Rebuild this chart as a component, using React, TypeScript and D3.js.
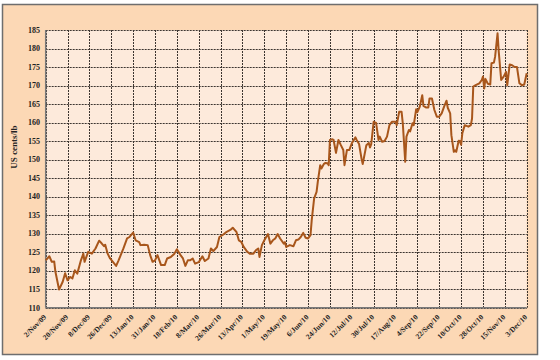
import React from "react";
import * as d3 from "d3";

const dates: string[] = [
  "2009-11-02","2009-11-05","2009-11-07","2009-11-09","2009-11-10","2009-11-13","2009-11-16","2009-11-18","2009-11-20","2009-11-22",
  "2009-11-24","2009-11-26","2009-11-28","2009-12-01","2009-12-03","2009-12-04","2009-12-07","2009-12-10","2009-12-13","2009-12-16",
  "2009-12-18","2009-12-20","2009-12-21","2009-12-23","2009-12-25","2009-12-30","2010-01-01","2010-01-05","2010-01-08","2010-01-10",
  "2010-01-13","2010-01-15","2010-01-18","2010-01-19","2010-01-22","2010-01-25","2010-01-27","2010-01-29","2010-01-31","2010-02-02",
  "2010-02-03","2010-02-05","2010-02-08","2010-02-10","2010-02-13","2010-02-16","2010-02-18","2010-02-21","2010-02-23","2010-02-25",
  "2010-02-27","2010-03-01","2010-03-03","2010-03-05","2010-03-08","2010-03-11","2010-03-13","2010-03-16","2010-03-18","2010-03-20",
  "2010-03-23","2010-03-25","2010-03-28","2010-03-31","2010-04-03","2010-04-05","2010-04-08","2010-04-10","2010-04-12","2010-04-14",
  "2010-04-17","2010-04-19","2010-04-22","2010-04-24","2010-04-26","2010-04-27","2010-04-29","2010-05-01","2010-05-04","2010-05-06",
  "2010-05-08","2010-05-10","2010-05-12","2010-05-14","2010-05-17","2010-05-18","2010-05-19","2010-05-22","2010-05-25","2010-05-27",
  "2010-05-29","2010-05-31","2010-06-02","2010-06-04","2010-06-06","2010-06-08","2010-06-09","2010-06-11","2010-06-13","2010-06-14",
  "2010-06-16","2010-06-17","2010-06-19","2010-06-20","2010-06-22","2010-06-23","2010-06-24","2010-06-26","2010-06-27","2010-06-29",
  "2010-07-01","2010-07-03","2010-07-05","2010-07-06","2010-07-08","2010-07-10","2010-07-12","2010-07-15","2010-07-16","2010-07-18",
  "2010-07-20","2010-07-21","2010-07-24","2010-07-26","2010-07-27","2010-07-28","2010-07-30","2010-08-01","2010-08-03","2010-08-04",
  "2010-08-06","2010-08-08","2010-08-10","2010-08-12","2010-08-14","2010-08-17","2010-08-18","2010-08-20","2010-08-22","2010-08-23",
  "2010-08-25","2010-08-26","2010-08-28","2010-08-29","2010-08-31","2010-09-01","2010-09-03","2010-09-04","2010-09-06","2010-09-08",
  "2010-09-09","2010-09-11","2010-09-13","2010-09-14","2010-09-16","2010-09-18","2010-09-20","2010-09-22","2010-09-24","2010-09-26",
  "2010-09-28","2010-09-29","2010-10-01","2010-10-02","2010-10-04","2010-10-05","2010-10-06","2010-10-08","2010-10-09","2010-10-10",
  "2010-10-11","2010-10-13","2010-10-16","2010-10-18","2010-10-19","2010-10-20","2010-10-22","2010-10-25","2010-10-27","2010-10-28",
  "2010-10-29","2010-10-30","2010-11-01","2010-11-03","2010-11-04","2010-11-06","2010-11-07","2010-11-09","2010-11-10","2010-11-12",
  "2010-11-14","2010-11-16","2010-11-17","2010-11-19","2010-11-21","2010-11-23","2010-11-25","2010-11-27","2010-11-29","2010-12-01",
  "2010-12-03"
];

const prices: number[] = [
  122.8,123.9,122.4,122.5,119.7,114.9,117.0,119.3,117.4,118.3,
  117.9,120.1,119.2,122.8,124.6,122.4,125.1,124.6,126.0,128.1,
  127.4,126.6,127.0,124.6,123.3,121.3,122.8,126.0,128.7,129.1,
  130.3,128.2,127.7,126.9,127.0,126.9,124.2,122.4,122.8,124.2,
  123.3,121.5,121.5,123.3,123.7,124.6,125.8,124.2,123.3,121.3,
  122.8,122.8,123.3,121.9,122.3,123.9,122.6,123.3,126.0,125.3,
  126.4,129.1,129.7,130.5,131.0,131.6,130.5,128.2,127.8,126.4,
  125.1,124.6,124.6,125.5,126.0,123.7,126.9,128.2,129.9,127.3,
  128.2,128.7,129.9,128.7,127.3,127.7,126.4,126.9,126.6,128.2,
  128.4,129.1,130.2,128.9,128.7,129.6,133.6,139.5,141.3,144.0,
  148.5,147.6,148.8,149.1,149.0,148.5,155.3,155.5,155.3,151.8,
  155.3,153.9,152.6,148.5,152.6,152.6,154.4,156.0,155.3,154.2,
  150.3,148.8,153.9,154.5,153.3,154.2,160.2,159.9,155.3,156.2,
  154.8,155.0,156.2,159.3,160.2,160.2,159.3,162.9,162.9,159.8,
  149.4,156.2,158.0,157.6,159.8,159.3,163.6,162.8,164.3,167.4,
  164.5,164.1,164.1,166.5,166.5,163.4,161.6,161.6,162.5,164.3,
  165.9,164.0,162.5,156.6,152.1,152.5,152.1,155.1,155.0,154.0,
  157.1,159.3,158.9,159.3,161.1,169.7,170.1,170.6,171.5,172.4,
  169.2,171.8,170.5,170.3,176.0,176.2,177.8,184.1,179.1,171.5,
  172.4,173.7,170.1,175.7,175.5,175.0,175.0,170.6,170.1,170.3,
  173.3
];

const tickDates: string[] = [
  "2009-11-02","2009-11-20","2009-12-08","2009-12-26","2010-01-13","2010-01-31","2010-02-18","2010-03-08",
  "2010-03-26","2010-04-13","2010-05-01","2010-05-19","2010-06-06","2010-06-24","2010-07-12","2010-07-30",
  "2010-08-17","2010-09-04","2010-09-22","2010-10-10","2010-10-28","2010-11-15","2010-12-03"
];
const tickLabels: string[] = [
  "2/Nov/09","20/Nov/09","8/Dec/09","26/Dec/09","13/Jan/10","31/Jan/10","18/Feb/10","8/Mar/10",
  "26/Mar/10","13/Apr/10","1/May/10","19/May/10","6/Jun/10","24/Jun/10","12/Jul/10","30/Jul/10",
  "17/Aug/10","4/Sep/10","22/Sep/10","10/Oct/10","28/Oct/10","15/Nov/10","3/Dec/10"
];
const yTicks: number[] = [110,115,120,125,130,135,140,145,150,155,160,165,170,175,180,185];
const yTitle = "US cents/lb";

export default function App() {
  const W = 560, H = 360;
  const left = 45.7, right = 526.7, top = 30, bottom = 307.7;
  const parse = d3.utcParse("%Y-%m-%d");
  const x = d3.scaleUtc()
    .domain([parse(tickDates[0])!, parse(tickDates[tickDates.length - 1])!])
    .range([left, right]);
  const y = d3.scaleLinear().domain([110, 185]).range([bottom, top]);
  const data = dates.map((d, i) => ({ date: parse(d)!, v: prices[i] }));
  const line = d3.line<{ date: Date; v: number }>()
    .x(d => x(d.date))
    .y(d => y(d.v));
  const font = "'Liberation Serif', 'Times New Roman', serif";
  const grid = "#3c3530";

  return (
    <svg width={W} height={H} style={{ position: "absolute", left: 0, top: 0, display: "block" }}>
      <rect x={0} y={0} width={W} height={H} fill="#ffffff" />
      <rect x={2.5} y={4.5} width={535} height={350} fill="#fcd8b5" stroke="#6e6e6e" strokeWidth={1.5} />
      <rect x={left} y={top} width={right - left} height={bottom - top} fill="#fdeadb" />
      {yTicks.map(t => (
        <line key={"hy" + t} x1={left} x2={right} y1={Math.round(y(t)) + 0.5} y2={Math.round(y(t)) + 0.5} stroke={grid} strokeWidth={1} strokeDasharray="2 1" />
      ))}
      {tickDates.map(t => (
        <line key={"vx" + t} x1={Math.round(x(parse(t)!)) + 0.5} x2={Math.round(x(parse(t)!)) + 0.5} y1={top} y2={bottom} stroke={grid} strokeWidth={1} strokeDasharray="2 1" />
      ))}
      <line x1={left} x2={left} y1={top} y2={bottom} stroke="#7a7a7a" strokeWidth={1.5} />
      <line x1={left} x2={right} y1={bottom} y2={bottom} stroke="#7a7a7a" strokeWidth={1.5} />
      <path d={line(data) || ""} fill="none" stroke="#a8561b" strokeWidth={2} strokeLinejoin="round" />
      {yTicks.map(t => (
        <text key={"ty" + t} x={40} y={y(t)} dy="0.35em" textAnchor="end" fontFamily={font} fontWeight="bold" fontSize={8} fill="#222">
          {t}
        </text>
      ))}
      {tickDates.map((t, i) => {
        const px = x(parse(t)!);
        return (
          <text key={"tx" + t} transform={`translate(${px + 1},${bottom + 10}) rotate(-45)`} textAnchor="end" fontFamily={font} fontWeight="bold" fontSize={7.5} fill="#222">
            {tickLabels[i]}
          </text>
        );
      })}
      <text transform={`translate(17,147) rotate(-90)`} textAnchor="middle" fontFamily={font} fontWeight="bold" fontSize={9} fill="#222">
        {yTitle}
      </text>
    </svg>
  );
}
